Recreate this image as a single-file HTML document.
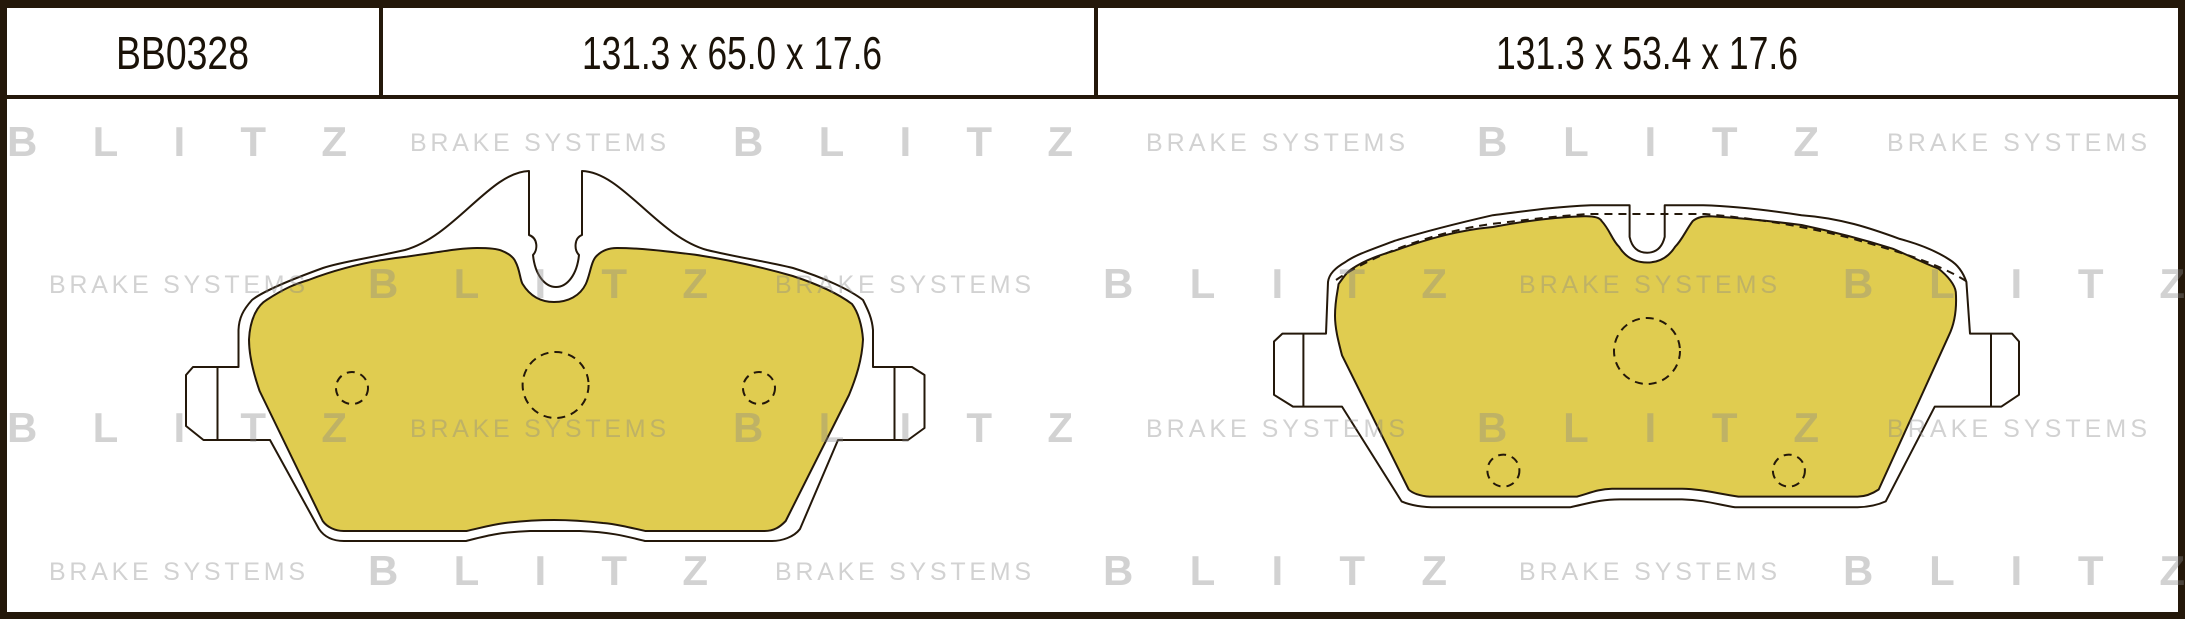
<!DOCTYPE html>
<html><head><meta charset="utf-8"><style>
html,body{margin:0;padding:0;background:#fff;}
svg{display:block;}
</style></head><body>
<svg width="2185" height="619" viewBox="0 0 2185 619" xmlns="http://www.w3.org/2000/svg">
<rect x="0" y="0" width="2185" height="619" fill="#24180a"/>
<rect x="7" y="8" width="2171" height="604" fill="#fff"/>
<rect x="7" y="95" width="2171" height="4" fill="#24180a"/>
<rect x="379" y="8" width="4" height="88" fill="#24180a"/>
<rect x="1094" y="8" width="4" height="88" fill="#24180a"/>
<g font-family="Liberation Sans Narrow, Liberation Sans, sans-serif" fill="#1a1208" font-size="46">
<text x="116" y="69" textLength="133" lengthAdjust="spacingAndGlyphs">BB0328</text>
<text x="582" y="69" textLength="300" lengthAdjust="spacingAndGlyphs">131.3 x 65.0 x 17.6</text>
<text x="1496" y="69" textLength="302" lengthAdjust="spacingAndGlyphs">131.3 x 53.4 x 17.6</text>
</g>

<g stroke="#24180a" stroke-width="2" fill="#fff" stroke-linejoin="round">
<path d="M529,171 C490,172 455,236 405,250 C370,258 340,262 323,268 C290,280 262,292 252,300 C243,310 239,318 238.5,330 L238.5,367 L193,367 L186,375 L186,426 L203.5,440 L270,440 L319,529 C325,538 334,541 344,541 L466,541 C485,536 500,532 530,531 L580,531 C610,532 625,536 645,541 L772,541 C782,541 794,537 800,529 L838,440 L908,440 L924.5,428 L924.5,375 L912,367 L873,367 L873,330 C872,318 868,310 863,300 C850,290 825,278 793,268 C770,262 740,258 707,250 C657,236 622,172 582,171 L582,235 C574,238 574,250 579,255 C577,275 567,287 556,287 C545,287 535,275 533,255 C538,250 538,238 529,235 Z"/>
<line x1="217.5" y1="367" x2="217.5" y2="440"/>
<line x1="894.5" y1="367" x2="894.5" y2="440"/>
<path d="M1629.6,205.3 L1591,205.3 C1550,207 1520,212 1492.8,215.2 C1450,225 1420,233 1394.6,240.8 C1370,250 1355,255 1345.5,262 C1335,268 1329,274 1328,282 L1326,333.6 L1282.4,333.6 L1274,341.5 L1274,394.8 L1293,406.6 L1342,406.6 L1401.6,501.4 C1410,505 1420,507.3 1436.7,507.3 L1570,507.3 C1590,503 1600,499.4 1620,499.4 L1682,499.4 C1705,500 1720,505 1735,507.3 L1857.6,507.3 C1870,507 1880,504 1885.7,501.4 L1934.8,406.6 L2001.4,406.6 L2019,394.8 L2019,341.5 L2012,333.6 L1970,333.6 L1966.4,282 C1963,272 1958,265 1950,260 C1935,250 1915,243 1899.7,238.9 C1870,228 1840,218 1801.5,215.2 C1760,209 1730,206 1703.3,205.3 L1664.7,205.3 L1664.7,236.9 C1662,248 1656,252.7 1647.2,252.7 C1638,252.7 1632,248 1629.6,236.9 Z"/>
<line x1="1303.4" y1="333.6" x2="1303.4" y2="406.6"/>
<line x1="1991" y1="333.6" x2="1991" y2="406.6"/>
</g>

<g stroke="#24180a" stroke-width="2" fill="#e0cc50" stroke-linejoin="round">
<path d="M249,339.5 C250,318 258,305 266.5,300 C285,288 295,284 308.5,280 C340,268 375,260 407,256.6 C440,252 460,248 477,248 C490,248 498,249 501.6,250.7 C510,254 514,258 515.6,262 C520,270 520,280 522.6,284 C530,296 540,302 554,302 C568,302 580,296 585.8,284 C590,275 591,262 596,256.6 C602,250 610,248 617,248 C640,248 665,251 694.5,254.6 C730,260 765,268 792.7,276 C820,285 840,295 852,304 C858,312 862,325 863,339.5 C862,360 856,378 849,395 L785.7,521 C780,527 774,531 764.6,531 L645.4,531 C628,527 615,524 603,523 C585,521 570,520 554,520 C538,520 522,521 505,523 C490,525 480,528 466.5,531 L343.7,531 C335,531 327,527 322.7,521 L259.6,391 C253,372 249,355 249,339.5 Z"/>
<path d="M1335,315.8 C1335,300 1338,290 1338.5,284.2 C1345,275 1348,271 1352.5,268.5 C1365,260 1380,255 1394.6,250.7 C1430,238 1460,230 1492.8,227 C1530,220 1560,217 1584,216.3 C1595,216 1600,218 1601.6,221 C1610,230 1612,240 1619,246.7 C1626,258 1636,262.5 1647.2,262.5 C1658,262.5 1668,258 1675.2,246.7 C1682,240 1686,230 1692.8,221 C1698,217 1703,216.3 1710.3,216.3 C1740,218 1770,221 1801.5,225 C1835,232 1865,240 1892.7,248.7 C1910,256 1928,265 1938.3,268.5 C1948,276 1955,285 1955.8,292 C1957,310 1954,325 1948.8,335.6 L1878.7,489.5 C1872,494 1865,496.6 1857.6,496.6 L1738.4,496.6 C1715,493 1700,489 1682.3,488.7 L1612,488.7 C1598,489 1590,493 1577,496.6 L1429.7,496.6 C1420,496 1412,493 1408.7,489.5 L1342,355.3 C1338,340 1335,328 1335,315.8 Z"/>
</g>

<g stroke="#24180a" stroke-width="2" fill="none" stroke-dasharray="8,6">
<circle cx="555.6" cy="385" r="33"/>
<circle cx="352" cy="388" r="16"/>
<circle cx="759" cy="388" r="16"/>
<circle cx="1647" cy="351" r="33"/>
<circle cx="1503.4" cy="470.6" r="16"/>
<circle cx="1788.9" cy="470.6" r="16"/>
<path d="M1336,280 C1380,250 1450,228 1500,223 C1540,218 1570,215 1590,214 L1705,214 C1750,218 1800,225 1850,238 C1900,252 1935,262 1966,281"/>
</g>

<g fill="#8a8a8a" fill-opacity="0.38" font-family="Liberation Sans, sans-serif">
<g font-weight="bold" font-size="42">
<text x="7" y="156" textLength="340" lengthAdjust="spacing">BLITZ</text>
<text x="733" y="156" textLength="340" lengthAdjust="spacing">BLITZ</text>
<text x="1477" y="156" textLength="342" lengthAdjust="spacing">BLITZ</text>
<text x="368" y="298" textLength="340" lengthAdjust="spacing">BLITZ</text>
<text x="1103" y="298" textLength="344" lengthAdjust="spacing">BLITZ</text>
<text x="1843" y="298" textLength="342" lengthAdjust="spacing">BLITZ</text>
<text x="7" y="442" textLength="340" lengthAdjust="spacing">BLITZ</text>
<text x="733" y="442" textLength="340" lengthAdjust="spacing">BLITZ</text>
<text x="1477" y="442" textLength="342" lengthAdjust="spacing">BLITZ</text>
<text x="368" y="585" textLength="340" lengthAdjust="spacing">BLITZ</text>
<text x="1103" y="585" textLength="344" lengthAdjust="spacing">BLITZ</text>
<text x="1843" y="585" textLength="342" lengthAdjust="spacing">BLITZ</text>
</g>
<g font-size="25" font-family="Liberation Sans Narrow, Liberation Sans, sans-serif">
<text x="410" y="151" textLength="256" lengthAdjust="spacing">BRAKE SYSTEMS</text>
<text x="1146" y="151" textLength="259" lengthAdjust="spacing">BRAKE SYSTEMS</text>
<text x="1887" y="151" textLength="260" lengthAdjust="spacing">BRAKE SYSTEMS</text>
<text x="49" y="293" textLength="256" lengthAdjust="spacing">BRAKE SYSTEMS</text>
<text x="775" y="293" textLength="256" lengthAdjust="spacing">BRAKE SYSTEMS</text>
<text x="1519" y="293" textLength="258" lengthAdjust="spacing">BRAKE SYSTEMS</text>
<text x="410" y="437" textLength="256" lengthAdjust="spacing">BRAKE SYSTEMS</text>
<text x="1146" y="437" textLength="259" lengthAdjust="spacing">BRAKE SYSTEMS</text>
<text x="1887" y="437" textLength="260" lengthAdjust="spacing">BRAKE SYSTEMS</text>
<text x="49" y="580" textLength="256" lengthAdjust="spacing">BRAKE SYSTEMS</text>
<text x="775" y="580" textLength="256" lengthAdjust="spacing">BRAKE SYSTEMS</text>
<text x="1519" y="580" textLength="258" lengthAdjust="spacing">BRAKE SYSTEMS</text>
</g>
</g>
</svg>
</body></html>
